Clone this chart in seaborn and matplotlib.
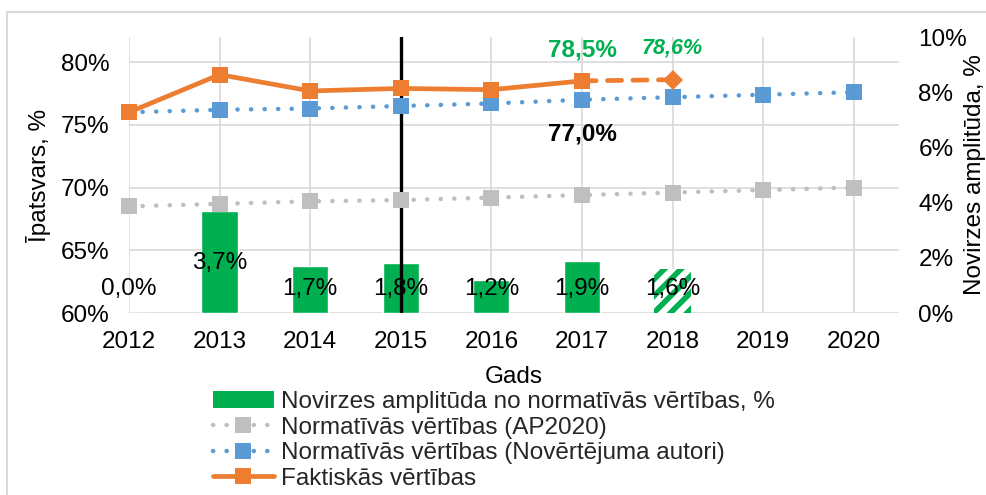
import matplotlib
matplotlib.use("Agg")
import matplotlib.pyplot as plt
import seaborn as sns
import pandas as pd
from matplotlib.lines import Line2D
from matplotlib.patches import Patch
from matplotlib.ticker import FuncFormatter

# ---- data ----
years = [2012, 2013, 2014, 2015, 2016, 2017, 2018, 2019, 2020]
actual_years = [2012, 2013, 2014, 2015, 2016, 2017]
actual = [76.0, 79.0, 77.7, 77.9, 77.8, 78.5]
forecast_years = [2017, 2018]
forecast = [78.5, 78.6]
norm_authors = [76.0, 76.2, 76.3, 76.5, 76.7, 77.0, 77.2, 77.4, 77.6]
norm_ap2020 = [68.5, 68.7, 68.9, 69.0, 69.2, 69.4, 69.6, 69.8, 70.0]
dev_years = [2012, 2013, 2014, 2015, 2016, 2017, 2018]
deviation = [0.0, 3.7, 1.7, 1.8, 1.2, 1.9, 1.6]
dev_label_y = [0.87, 1.81, 0.87, 0.87, 0.87, 0.87, 0.87]

left_ticks = [60, 65, 70, 75, 80]
right_ticks = [0, 2, 4, 6, 8, 10]

legend_labels = [
    "Novirzes amplitūda no normatīvās vērtības, %",
    "Normatīvās vērtības (AP2020)",
    "Normatīvās vērtības (Novērtējuma autori)",
    "Faktiskās vērtības",
]

GREEN = "#00B050"
ORANGE = "#ED7D31"
BLUE = "#5B9BD5"
GRAY = "#BFBFBF"
GRID = "#D9D9D9"

sns.set_theme(style="white")
plt.rcParams["font.family"] = ["Liberation Sans", "DejaVu Sans"]
plt.rcParams["hatch.linewidth"] = 4.0
FS = 17.5

W, H = 986, 495
fig = plt.figure(figsize=(W / 100, H / 100), dpi=100)
L, R, T, B = 129, 899, 37, 313
ax = fig.add_axes([L / W, 1 - B / H, (R - L) / W, (B - T) / H])

# base axis: grid + left ticks
ax.set_xlim(2012, 2020.5)
ax.set_ylim(60, 82)
ax.set_xticks(years)
ax.set_yticks(left_ticks)
ax.yaxis.set_major_formatter(FuncFormatter(lambda v, p: f"{v:.0f}%"))
ax.grid(True, color=GRID, lw=1.2)
ax.tick_params(length=0, labelsize=FS, pad=14, colors="black")
ax.tick_params(axis="x", pad=13)
for s in ax.spines.values():
    s.set_visible(False)
ax.set_xlabel("Gads", fontsize=FS, labelpad=9, color="black")
ax.set_ylabel("Īpatsvars, %", fontsize=FS, color="black")
ax.yaxis.set_label_coords((51 - L) / (R - L), 0.5)

# bar axis (right)
ax2 = ax.twinx()
bar_df = pd.DataFrame({"year": dev_years, "dev": deviation})
sns.barplot(data=bar_df, x="year", y="dev", ax=ax2, native_scale=True,
            width=0.4, color=GREEN, saturation=1, errorbar=None, zorder=2)
last = ax2.patches[-1]
last.set_facecolor("white")
last.set_edgecolor(GREEN)
last.set_hatch("//")
last.set_linewidth(0)
ax2.set_xlim(2012, 2020.5)
ax2.set_ylim(0, 10)
ax2.set_yticks(right_ticks)
ax2.yaxis.set_major_formatter(FuncFormatter(lambda v, p: f"{v:.0f}%"))
ax2.tick_params(length=0, labelsize=FS, pad=14, colors="black")
ax2.set_ylabel("Novirzes amplitūda, %", fontsize=FS, color="black")
ax2.yaxis.set_label_coords((964 - L) / (R - L), 0.5)
ax2.set_xlabel("")
ax2.grid(False)
for s in ax2.spines.values():
    s.set_visible(False)
for x, v, ly in zip(dev_years, deviation, dev_label_y):
    ax2.text(x, ly, f"{v:.1f}%".replace(".", ","), ha="center", va="center",
             fontsize=FS, color="black", zorder=5)

# line axis (same scale as left)
ax3 = ax.twinx()
ax3.set_ylim(60, 82)
ax3.set_xlim(2012, 2020.5)
ax3.set_yticks([])
ax3.grid(False)
for s in ax3.spines.values():
    s.set_visible(False)

ax3.axvline(2015, color="black", lw=2.4, zorder=1)

dot = (0, (0.05, 3.0))
sns.lineplot(x=years, y=norm_ap2020, ax=ax3, color=GRAY, lw=3.2, linestyle=dot,
             dash_capstyle="round", marker="s", markersize=11, markeredgewidth=0,
             clip_on=False, zorder=3)
sns.lineplot(x=years, y=norm_authors, ax=ax3, color=BLUE, lw=3.2, linestyle=dot,
             dash_capstyle="round", marker="s", markersize=11, markeredgewidth=0,
             clip_on=False, zorder=3)
sns.lineplot(x=forecast_years, y=forecast, ax=ax3, color=ORANGE, lw=3.4,
             linestyle=(0, (3.0, 2.4)), dash_capstyle="round", marker="D",
             markevery=[1], markersize=10, markeredgewidth=0, clip_on=False, zorder=4)
sns.lineplot(x=actual_years, y=actual, ax=ax3, color=ORANGE, lw=3.4,
             marker="s", markersize=11, markeredgewidth=0, clip_on=False, zorder=4)
ax3.set_xlabel("")
ax3.set_ylabel("")

ax3.text(2017, 80.95, "78,5%", ha="center", va="center", fontsize=FS,
         fontweight="bold", color=GREEN)
ax3.text(2018, 81.1, "78,6%", ha="center", va="center", fontsize=15.5,
         fontweight="bold", fontstyle="italic", color=GREEN)
ax3.text(2017, 74.3, "77,0%", ha="center", va="center", fontsize=FS,
         fontweight="bold", color="black")

# legend
handles = [
    Patch(facecolor=GREEN, edgecolor="none"),
    Line2D([], [], color=GRAY, lw=3.2, linestyle=dot, dash_capstyle="round",
           marker="s", markersize=11, markeredgewidth=0),
    Line2D([], [], color=BLUE, lw=3.2, linestyle=dot, dash_capstyle="round",
           marker="s", markersize=11, markeredgewidth=0),
    Line2D([], [], color=ORANGE, lw=3.4, marker="s", markersize=11,
           markeredgewidth=0),
]
fig.legend(handles, legend_labels, loc="upper left",
           bbox_to_anchor=(213 / W, 1 - 391 / H), frameon=False, fontsize=FS,
           handlelength=2.5, handletextpad=0.3, labelspacing=0.15,
           borderaxespad=0, borderpad=0)

# outer border
fig.add_artist(Line2D([7 / W, 7 / W, 1], [0, 1 - 12 / H, 1 - 12 / H],
                      transform=fig.transFigure, color=GRID, lw=1.5))

fig.savefig("out.png", dpi=100)
